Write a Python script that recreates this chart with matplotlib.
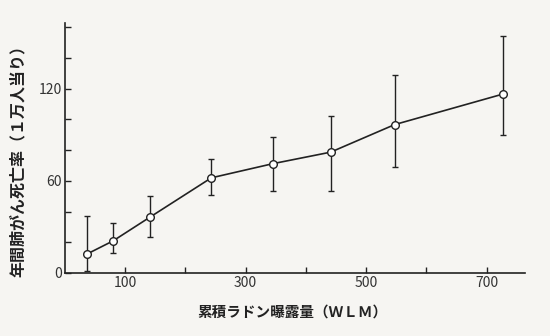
import matplotlib
matplotlib.use('Agg')
from matplotlib import pyplot as plt
import numpy as np

# データ
exposure = [37, 80, 141, 243, 345, 441, 547, 727]          # WLM
death_rate = [12.4, 20.9, 36.3, 61.9, 71.1, 78.6, 96.5, 116.4]
err_upper = [37.4, 32.5, 49.8, 74.1, 88.6, 102.0, 128.8, 154.4]
err_lower = [1.0, 13.2, 23.5, 50.8, 53.4, 53.4, 69.0, 89.7]

x_labels = [100, 300, 500, 700]
y_labels = [0, 60, 120]

plt.rcParams['font.family'] = ['Noto Sans CJK JP', 'DejaVu Sans']

fig = plt.figure(figsize=(5.5, 3.36), dpi=100)
fig.patch.set_facecolor('#f6f5f2')
ax = fig.add_axes([0.118, 0.1875, 0.836, 0.744])
ax.set_facecolor('#f6f5f2')

y = np.array(death_rate)
yerr = [y - np.array(err_lower), np.array(err_upper) - y]
ax.errorbar(exposure, death_rate, yerr=yerr, fmt='-o', color='#222222',
            lw=1.2, elinewidth=1.0, capsize=2, capthick=1.0,
            markersize=5.5, markerfacecolor='white', markeredgewidth=1.0)

ax.set_xlim(0, 763)
ax.set_ylim(0, 162.6)
ax.spines['top'].set_visible(False)
ax.spines['right'].set_visible(False)
for s in ('left', 'bottom'):
    ax.spines[s].set_linewidth(1.2)
    ax.spines[s].set_color('#222222')

ax.set_xticks(x_labels)
ax.set_xticks([200, 400, 600], minor=True)
ax.set_yticks(y_labels)
ax.set_yticks([20, 40, 80, 100, 140, 160], minor=True)
ax.tick_params(which='both', direction='in', color='#222222', width=1.0,
               labelsize=10, labelcolor='#333333', length=4)
ax.tick_params(axis='x', pad=2)
ax.tick_params(axis='y', pad=2)

fig.text(292 / 550, 1 - 312 / 336, '累積ラドン曝露量（ＷＬＭ）', fontsize=10.5,
         fontweight='bold', color='#222222', ha='center', va='center')
fig.text(18 / 550, 1 - 157 / 336, '年間肺がん死亡率（１万人当り）', fontsize=11.5,
         fontweight='bold', color='#222222', ha='center', va='center', rotation=90)

fig.savefig('out.png', dpi=100, facecolor=fig.get_facecolor())
